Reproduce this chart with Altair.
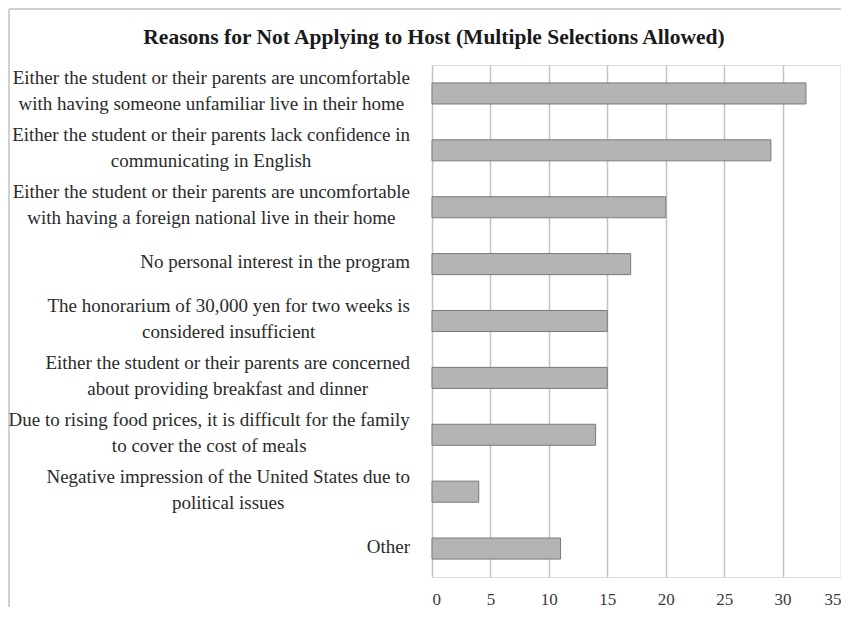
import altair as alt
import pandas as pd

title = "Reasons for Not Applying to Host (Multiple Selections Allowed)"
reasons = [
    "Either the student or their parents are uncomfortable\nwith having someone unfamiliar live in their home",
    "Either the student or their parents lack confidence in\ncommunicating in English",
    "Either the student or their parents are uncomfortable\nwith having a foreign national live in their home",
    "No personal interest in the program",
    "The honorarium of 30,000 yen for two weeks is\nconsidered insufficient",
    "Either the student or their parents are concerned\nabout providing breakfast and dinner",
    "Due to rising food prices, it is difficult for the family\nto cover the cost of meals",
    "Negative impression of the United States due to\npolitical issues",
    "Other",
]
counts = [32, 29, 20, 17, 15, 15, 14, 4, 11]
x_ticks = [0, 5, 10, 15, 20, 25, 30, 35]

FONT = "Liberation Serif"
LABEL_SIZE = 19
LABEL_GAP = 22
LINE_H = 26

# Times / Liberation Serif advance widths (per 1000 em) for label layout
_w = dict(zip("abcdefghijklmnopqrstuvwxyz",
              [444, 500, 444, 500, 444, 333, 500, 500, 278, 278, 500, 278, 778,
               500, 500, 500, 500, 333, 389, 278, 500, 500, 722, 500, 500, 444]))
_w.update(dict(zip("ABCDEFGHIJKLMNOPQRSTUVWXYZ",
                   [722, 667, 667, 722, 611, 556, 722, 722, 333, 389, 722, 611, 889,
                    722, 722, 556, 722, 667, 556, 611, 722, 722, 944, 722, 722, 611])))
_w.update({c: 500 for c in "0123456789"})
_w.update({" ": 250, ",": 250, ".": 250})


def text_width(s):
    return sum(_w.get(c, 500) for c in s) / 1000 * LABEL_SIZE


block_w = [max(text_width(line) for line in r.split("\n")) for r in reasons]
centers = [-LABEL_GAP - w / 2 for w in block_w]
nlines = [len(r.split("\n")) for r in reasons]

df = pd.DataFrame({"reason": reasons, "count": counts, "cx": centers, "nlines": nlines})

order = reasons
yscale = alt.Scale(paddingInner=0.63, paddingOuter=0.315)

bars = alt.Chart(df).mark_bar(
    color="#b4b4b4", stroke="#7a7a7a", strokeWidth=1
).encode(
    x=alt.X(
        "count:Q",
        scale=alt.Scale(domain=[0, 35], nice=False),
        axis=alt.Axis(
            values=x_ticks, title=None, domain=False, ticks=False,
            grid=True, gridColor="#c4c4c4", gridWidth=1.5,
            labelFont=FONT, labelFontSize=17, labelColor="#3a3a3a",
            labelPadding=14,
        ),
    ),
    y=alt.Y("reason:N", sort=order, axis=None, scale=yscale),
)


def label_layer(n, dy):
    return alt.Chart(df).transform_filter(
        alt.datum.nlines == n
    ).mark_text(
        font=FONT, fontSize=LABEL_SIZE, color="#2a2a2a", align="center",
        baseline="middle", lineBreak="\n", lineHeight=LINE_H, dy=dy,
    ).encode(
        x=alt.X("cx:Q", scale=None, axis=None),
        y=alt.Y("reason:N", sort=order, axis=None, scale=yscale),
        text="reason:N",
    )


labels1 = label_layer(1, -2)
labels2 = label_layer(2, -2 - LINE_H / 2)

title_mark = alt.Chart(pd.DataFrame({"t": [title]})).mark_text(
    font=FONT, fontSize=21.5, fontWeight="bold", color="#1a1a1a",
    align="center", baseline="middle",
).encode(x=alt.value(2), y=alt.value(-27), text="t:N")

frame_top = alt.Chart(df).mark_rule(color="#d0d0d0", strokeWidth=2).encode(
    x=alt.value(-423), x2=alt.value(425), y=alt.value(-56)
)
frame_left = alt.Chart(df).mark_rule(color="#d0d0d0", strokeWidth=2).encode(
    x=alt.value(-423), y=alt.value(-56), y2=alt.value(550)
)

chart = alt.layer(
    frame_top, frame_left, bars, labels1, labels2, title_mark
).resolve_scale(
    x="independent"
).properties(
    width=409,
    height=512,
    autosize=alt.AutoSizeParams(type="none"),
    padding={"left": 424, "top": 57, "right": 0, "bottom": 30},
).configure_view(stroke=None).configure(background="white")

chart.save("out.html", embed_options={"renderer": "svg", "actions": False})
